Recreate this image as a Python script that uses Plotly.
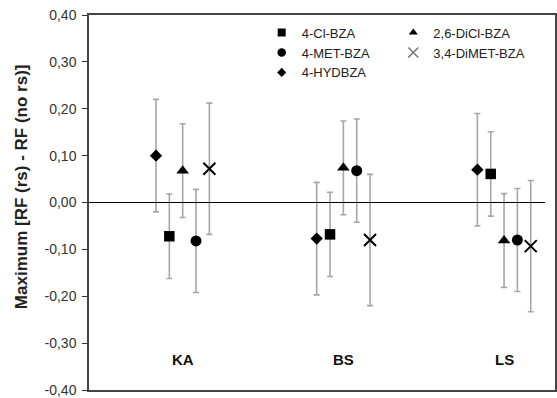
import plotly.graph_objects as go

# ---- data ----
groups = ["KA", "BS", "LS"]
series_names = ["4-HYDBZA", "4-Cl-BZA", "2,6-DiCl-BZA", "4-MET-BZA", "3,4-DiMET-BZA"]
hyd = [0.100, -0.077, 0.070]
hyd_err = [0.12, 0.12, 0.12]
cl = [-0.072, -0.068, 0.061]
cl_err = [0.09, 0.09, 0.09]
dicl = [0.068, 0.074, -0.081]
dicl_err = [0.10, 0.10, 0.10]
met = [-0.082, 0.068, -0.080]
met_err = [0.11, 0.11, 0.11]
dimet = [0.072, -0.080, -0.093]
dimet_err = [0.14, 0.14, 0.14]
ytick_vals = [0.4, 0.3, 0.2, 0.1, 0.0, -0.1, -0.2, -0.3, -0.4]
ytick_text = ["0,40", "0,30", "0,20", "0,10", "0,00", "-0,10", "-0,20", "-0,30", "-0,40"]
y_title = "Maximum [RF (rs) - RF (no rs)]"

FONT = "Liberation Sans, Arial, sans-serif"
step = 0.083
specs = [
    # name, values, errors, offset index, symbol, size, legend, legend marker size, rank
    ("4-HYDBZA", hyd, hyd_err, -2, "diamond", 9.5, "legend", 7, 3),
    ("4-Cl-BZA", cl, cl_err, -1, "square", 10.5, "legend", 8, 1),
    ("2,6-DiCl-BZA", dicl, dicl_err, 0, "triangle-up", 11, "legend2", 8, 1),
    ("4-MET-BZA", met, met_err, 1, "circle", 11, "legend", 8.5, 2),
    ("3,4-DiMET-BZA", dimet, dimet_err, 2, "x-thin-open", 12, "legend2", 10, 2),
]

fig = go.Figure()
for name, vals, errs, off, sym, size, leg, lsize, rank in specs:
    xs = [i + off * step for i in range(len(groups))]
    is_x = sym.startswith("x")
    fig.add_trace(go.Scatter(
        x=xs, y=vals, mode="markers", name=name, showlegend=False,
        marker=dict(symbol=sym, size=size, color="#000000",
                    line=dict(color="#111111", width=2 if is_x else 0)),
        error_y=dict(type="data", array=errs, visible=True,
                     color="#a6a6a6", thickness=1.6, width=3),
    ))
    # legend-only entry
    fig.add_trace(go.Scatter(
        x=[None], y=[None], mode="markers", name=name, legend=leg, legendrank=rank,
        marker=dict(symbol=sym, size=lsize,
                    color="#777777" if is_x else "#000000",
                    line=dict(color="#777777", width=1.5 if is_x else 0)),
    ))

xmin, xmax = -0.583, 2.317
fig.add_shape(type="line", xref="x", yref="y", x0=xmin, x1=2.255, y0=0, y1=0,
              line=dict(color="#000000", width=1))

for i, g in enumerate(groups):
    fig.add_annotation(x=i, y=-0.335, xref="x", yref="y", text="<b>%s</b>" % g,
                       showarrow=False, font=dict(family=FONT, size=15, color="#111111"))

fig.add_annotation(x=-0.1459, y=0.541, xref="paper", yref="paper",
                   text="<b>%s</b>" % y_title, textangle=-90, showarrow=False,
                   xanchor="center", yanchor="middle",
                   font=dict(family=FONT, size=17, color="#222222"))

fig.update_layout(
    width=557, height=398,
    margin=dict(l=89, r=2, t=15, b=8, autoexpand=False),
    paper_bgcolor="white", plot_bgcolor="white",
    font=dict(family=FONT, color="#222222"),
    xaxis=dict(range=[xmin, xmax], showticklabels=False, ticks="", showgrid=False,
               automargin=False,
               zeroline=False, showline=True, mirror=True, linecolor="#444444", linewidth=1.5),
    yaxis=dict(range=[-0.4, 0.4], tickvals=ytick_vals, ticktext=ytick_text,
               automargin=False,
               ticks="outside", ticklen=5, tickwidth=1, tickcolor="#333333",
               ticklabeloverflow="allow", ticklabelstandoff=3,
               tickfont=dict(family=FONT, size=14, color="#333333"),
               showgrid=False, zeroline=False, showline=True, mirror=True,
               linecolor="#444444", linewidth=1.5),
    legend=dict(x=0.3706, y=0.993, xanchor="left", yanchor="top",
                bgcolor="rgba(0,0,0,0)", tracegroupgap=0, itemwidth=30,
                font=dict(family=FONT, size=13, color="#222222")),
    legend2=dict(x=0.653, y=0.993, xanchor="left", yanchor="top",
                 bgcolor="rgba(0,0,0,0)", tracegroupgap=0, itemwidth=30,
                 font=dict(family=FONT, size=13, color="#222222")),
)

fig.write_html("out.html")
